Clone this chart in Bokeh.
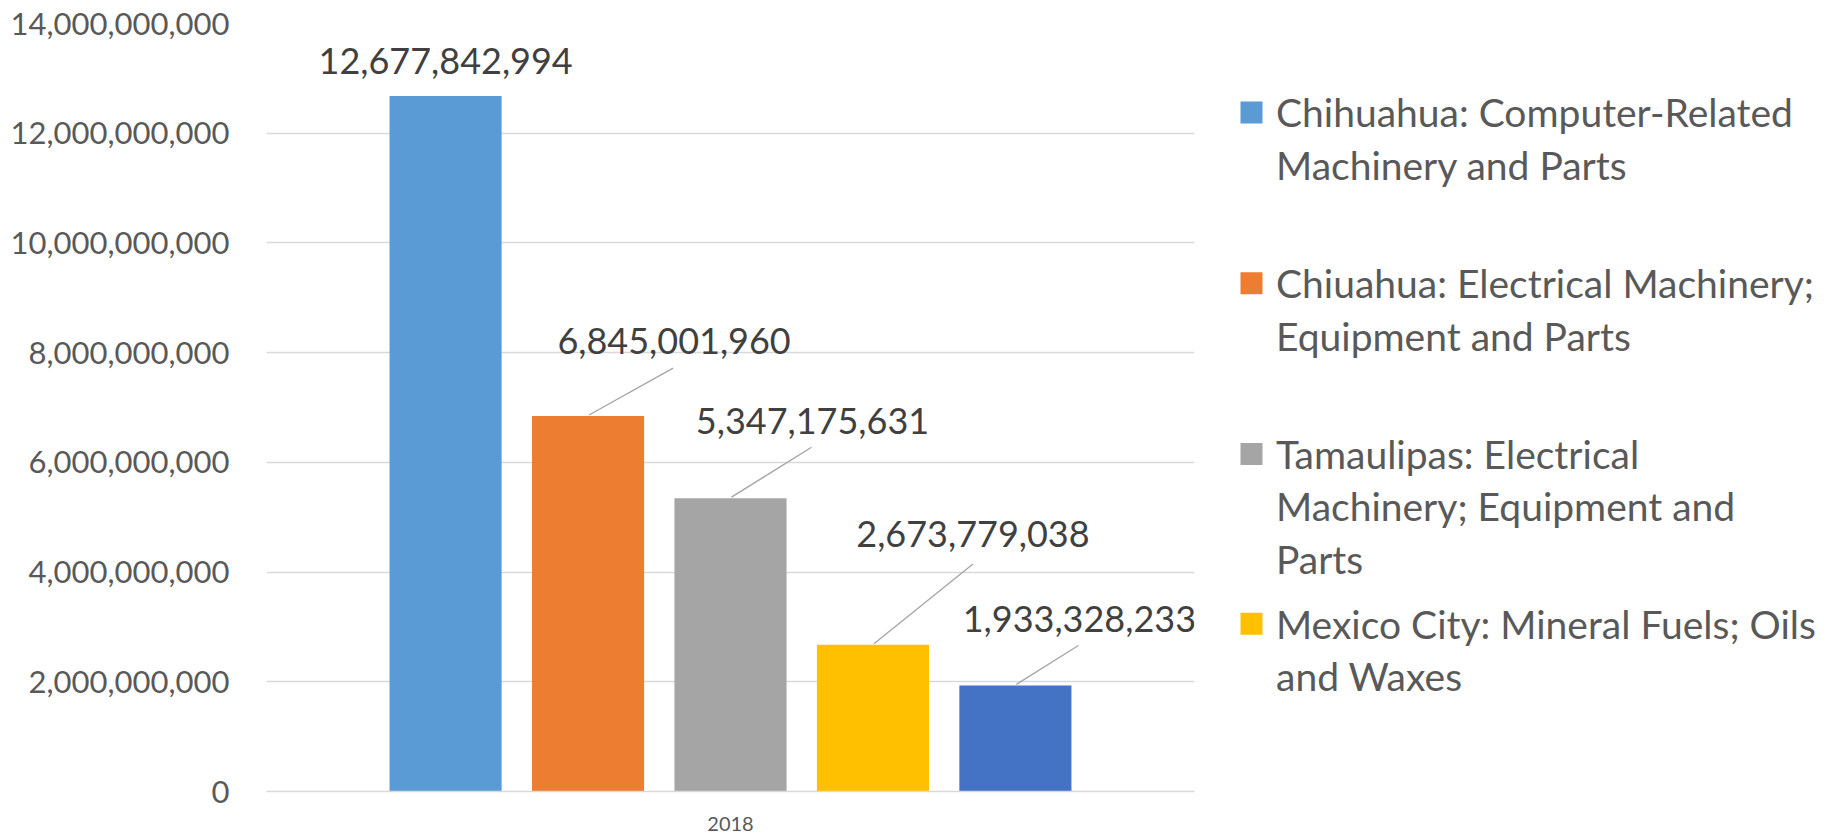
from bokeh.plotting import figure
from bokeh.models import FixedTicker, NumeralTickFormatter, Range1d, ColumnDataSource
from bokeh.layouts import row
from bokeh.core.properties import value
from bokeh.embed import file_html
from bokeh.resources import INLINE

# ---------------- data ----------------
category = "2018"
series_names = [
    "Chihuahua: Computer-Related Machinery and Parts",
    "Chiuahua: Electrical Machinery; Equipment and Parts",
    "Tamaulipas: Electrical Machinery; Equipment and Parts",
    "Mexico City: Mineral Fuels; Oils and Waxes",
    "Dark blue series",
]
values = [12677842994, 6845001960, 5347175631, 2673779038, 1933328233]
y_ticks = [0, 2e9, 4e9, 6e9, 8e9, 10e9, 12e9, 14e9]

# legend text as wrapped in the reference (the fifth entry is cut off there)
legend_lines = [
    ["Chihuahua: Computer-Related", "Machinery and Parts"],
    ["Chiuahua: Electrical Machinery;", "Equipment and Parts"],
    ["Tamaulipas: Electrical", "Machinery; Equipment and", "Parts"],
    ["Mexico City: Mineral Fuels; Oils", "and Waxes"],
]

# ---------------- styling ----------------
colors = ["#5B9BD5", "#ED7D31", "#A5A5A5", "#FFC000", "#4472C4"]
FONT = "Lato"
TICK_COLOR = "#595959"
LABEL_COLOR = "#404040"
GRID_COLOR = "#D9D9D9"

W_MAIN, H = 1225, 833
FR_L, FR_R, FR_T, FR_B = 266, 1194, 23, 792
FR_W = FR_R - FR_L
FR_H = FR_B - FR_T
Y_MAX = 14e9

bar_step = 0.1535
bar_width = 0.1208
bar_x = [0.5 + (i - 2) * bar_step for i in range(len(values))]

# label centre offsets from bar-top centre, in screen pixels (dx right, dy up)
label_dx = [0, 86, 82, 100, 64]
label_dy = [35, 75, 77, 111, 67]
# leader line top end offsets (pixels), None = no leader
leader_dx = [None, 85, 81, 100, 63]
leader_dy = [None, 48, 51, 81, 40]

fmt = ["{:,}".format(v) for v in values]

p = figure(width=W_MAIN, height=H, output_backend="svg", toolbar_location=None,
           x_range=Range1d(0, 1), y_range=Range1d(0, Y_MAX),
           min_border_left=FR_L, min_border_right=W_MAIN - FR_R,
           min_border_top=FR_T, min_border_bottom=H - FR_B)
p.outline_line_color = None
p.background_fill_color = "white"
p.border_fill_color = "white"

src = ColumnDataSource(dict(x=bar_x, top=values, color=colors, name=series_names))
p.vbar(x="x", top="top", width=bar_width, color="color", line_color=None, source=src)

# leader lines
lx0, ly0, lx1, ly1 = [], [], [], []
for i, v in enumerate(values):
    if leader_dx[i] is None:
        continue
    lx0.append(bar_x[i] + 1 / FR_W)
    ly0.append(v + 1 * Y_MAX / FR_H)
    lx1.append(bar_x[i] + leader_dx[i] / FR_W)
    ly1.append(v + leader_dy[i] * Y_MAX / FR_H)
p.segment(x0=lx0, y0=ly0, x1=lx1, y1=ly1, line_color="#A6A6A6", line_width=1.4)

# data labels
lab = ColumnDataSource(dict(
    x=[bar_x[i] + label_dx[i] / FR_W for i in range(len(values))],
    y=[values[i] + label_dy[i] * Y_MAX / FR_H for i in range(len(values))],
    t=fmt))
p.text(x="x", y="y", text="t", source=lab, text_font=value(FONT), text_font_size="36px",
       text_color=LABEL_COLOR, text_align="center", text_baseline="middle")

# axes
p.yaxis.ticker = FixedTicker(ticks=y_ticks)
p.yaxis.formatter = NumeralTickFormatter(format="0,0")
p.yaxis.axis_line_color = None
p.yaxis.major_tick_line_color = None
p.yaxis.minor_tick_line_color = None
p.yaxis.major_label_standoff = 31
p.yaxis.major_label_text_font = FONT
p.yaxis.major_label_text_font_size = "31px"
p.yaxis.major_label_text_color = TICK_COLOR

p.xaxis.ticker = FixedTicker(ticks=[0.5])
p.xaxis.major_label_overrides = {0.5: category}
p.xaxis.axis_line_color = GRID_COLOR
p.xaxis.axis_line_width = 1.5
p.xaxis.major_tick_line_color = None
p.xaxis.minor_tick_line_color = None
p.xaxis.major_label_standoff = 19
p.xaxis.major_label_text_font = FONT
p.xaxis.major_label_text_font_size = "20px"
p.xaxis.major_label_text_color = TICK_COLOR

p.xgrid.grid_line_color = None
p.ygrid.grid_line_color = GRID_COLOR
p.ygrid.grid_line_width = 1.5

# ---------------- legend panel ----------------
# its frame is given the same top/bottom as the chart frame, and the y range
# is set so that y values are page pixels from the top
W_LEG = 1835 - W_MAIN
leg = figure(width=W_LEG, height=H, output_backend="svg", toolbar_location=None,
             x_range=Range1d(0, W_LEG), y_range=Range1d(FR_B, FR_T),
             x_axis_location=None, y_axis_location=None,
             min_border_left=0, min_border_right=0,
             min_border_top=FR_T, min_border_bottom=H - FR_B)
leg.outline_line_color = None
leg.xgrid.visible = False
leg.ygrid.visible = False
leg.border_fill_color = "white"

item_y = [112, 283, 454, 624]
line_h = 52.5
sq_x, sq_size, txt_x = 26, 22, 50.5
leg.rect(x=[sq_x] * len(legend_lines), y=item_y, width=sq_size, height=sq_size,
         width_units="screen", height_units="screen",
         fill_color=colors[:len(legend_lines)], line_color=None)
tx, ty, tt = [], [], []
for k, lines in enumerate(legend_lines):
    for j, s in enumerate(lines):
        tx.append(txt_x)
        ty.append(item_y[k] + j * line_h)
        tt.append(s)
leg.text(x=tx, y=ty, text=tt, text_font=value(FONT), text_font_size="39px",
         text_color=TICK_COLOR, text_align="left", text_baseline="middle")

layout = row(p, leg, spacing=0)
open("out.html", "w").write(file_html(layout, INLINE))
